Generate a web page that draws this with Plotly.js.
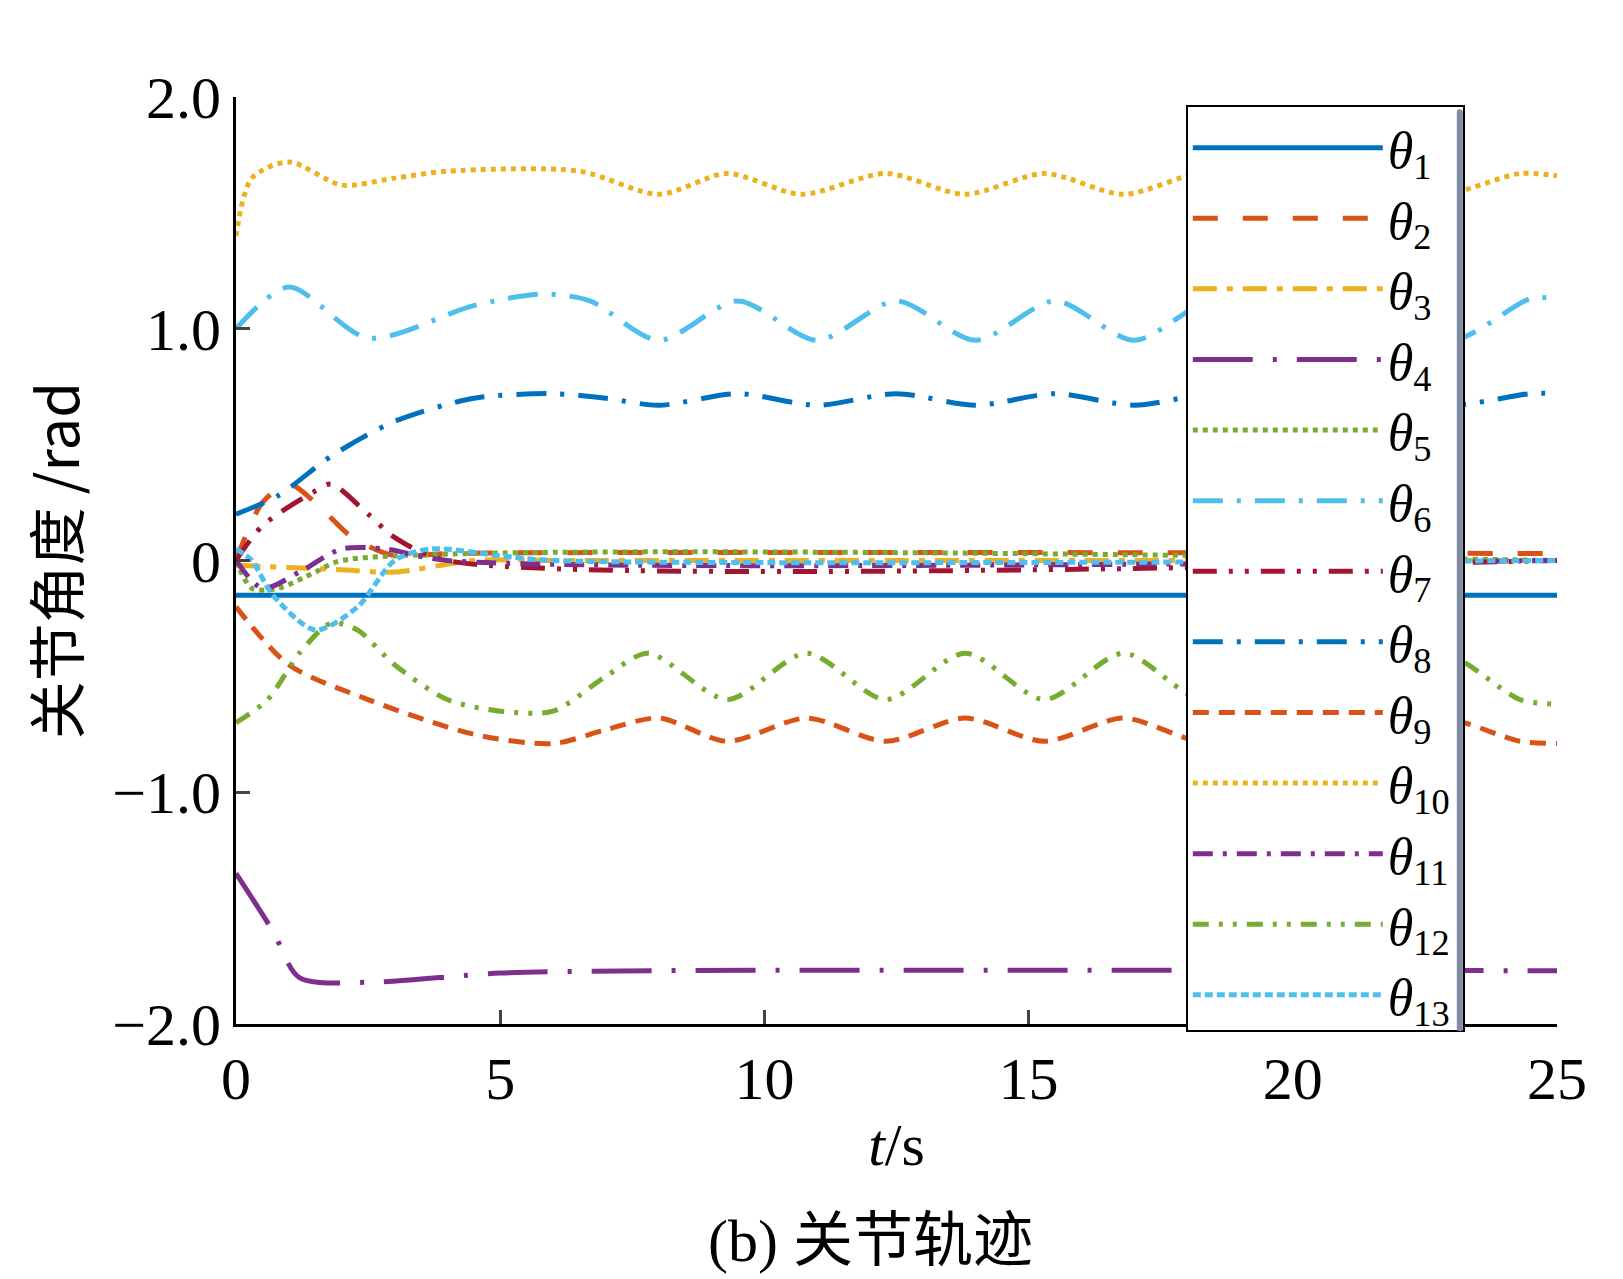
<!DOCTYPE html>
<html><head><meta charset="utf-8">
<script src="https://cdn.plot.ly/plotly-3.0.1.min.js"></script>
<style>body{margin:0;background:#fff}</style></head>
<body><div id="c" style="width:1623px;height:1279px"></div>
<script>
const names = ['θ1','θ2','θ3','θ4','θ5','θ6','θ7','θ8','θ9','θ10','θ11','θ12','θ13'];
const subs = ['1','2','3','4','5','6','7','8','9','10','11','12','13'];
const colors = ['#0072BD','#D95319','#EDB120','#7E2F8E','#77AC30','#4DBEEE','#A2142F','#0072BD','#D95319','#EDB120','#7E2F8E','#77AC30','#4DBEEE'];
const dashes = ['solid','longdash','24px,10px,6px,10px','60px,20px,4px,20px','dot','30px,14px,4px,14px','24px,12px,4px,12px,4px,12px','30px,14px,4px,14px','16px,10px','dot','20px,10px,4px,10px','16px,10px,4px,10px,4px,10px','8px,4px'];

const t1 = [0,25], y1 = [-0.15,-0.15];
const t2 = [0,0.5,1,1.5,2.2,3,4,25], y2 = [0,0.25,0.33,0.25,0.1,0.02,0.03,0.03];
const t3 = [0,1,2,3,4.5,6,25], y3 = [-0.02,-0.03,-0.04,-0.05,0,0,0];
const t4 = [0,0.7,1.2,2.5,5,8,25], y4 = [-1.35,-1.6,-1.8,-1.82,-1.78,-1.77,-1.77];
const t5 = [0,0.3,0.8,1.5,2,25], y5 = [0,-0.12,-0.12,-0.05,0,0];
const t6 = [0,1,2.5,4.5,5.8,6.7,8,9.5,11,12.5,14,15.5,17,18.5,20,21.5,23,24.5,25], y6 = [1.0,1.18,0.96,1.1,1.15,1.12,0.95,1.12,0.95,1.12,0.95,1.12,0.95,1.12,0.95,1.12,0.95,1.13,1.13];
const t7 = [0,0.5,1.5,1.8,2.5,3,4,25], y7 = [0,0.15,0.3,0.33,0.2,0.1,0,0];
const t8 = [0,0.8,1.8,3,4.5,6,7,8,9.5,11,12.5,14,15.5,17,18.5,20,21.5,23,24.5,25], y8 = [0.2,0.28,0.45,0.6,0.7,0.72,0.7,0.67,0.72,0.67,0.72,0.67,0.72,0.67,0.72,0.67,0.72,0.67,0.72,0.72];
const t9 = [0,1,2.5,4.5,6,7,8,9.3,10.8,12.3,13.8,15.3,16.8,18.3,19.8,21.3,22.8,24.3,25], y9 = [-0.2,-0.45,-0.6,-0.75,-0.79,-0.73,-0.68,-0.78,-0.68,-0.78,-0.68,-0.78,-0.68,-0.78,-0.68,-0.78,-0.68,-0.78,-0.79];
const t10 = [0,0.3,1,2,3,4,6.5,8,9.3,10.7,12.3,13.8,15.3,16.8,18.3,19.8,21.3,22.8,24.3,25], y10 = [1.4,1.65,1.72,1.62,1.65,1.68,1.68,1.58,1.67,1.58,1.67,1.58,1.67,1.58,1.67,1.58,1.67,1.58,1.67,1.66];
const t11 = [0,0.5,1.2,2,2.8,4,25], y11 = [0,-0.12,-0.05,0.05,0.05,0,0];
const t12 = [0,0.6,1.2,1.8,2.3,3,4,5,6,7,7.8,9.3,10.8,12.3,13.8,15.3,16.8,18.3,19.8,21.3,22.8,24.3,25], y12 = [-0.7,-0.6,-0.4,-0.27,-0.3,-0.45,-0.6,-0.65,-0.65,-0.5,-0.4,-0.6,-0.4,-0.6,-0.4,-0.6,-0.4,-0.6,-0.4,-0.6,-0.4,-0.6,-0.62];
const t13 = [0,0.3,0.7,1.5,2.3,3,3.7,5,6,25], y13 = [0.05,0,-0.15,-0.3,-0.2,0,0.05,0.02,0,0];

const T=[t1,t2,t3,t4,t5,t6,t7,t8,t9,t10,t11,t12,t13], Y=[y1,y2,y3,y4,y5,y6,y7,y8,y9,y10,y11,y12,y13];
const data = T.map((t,i)=>({x:t,y:Y[i],mode:'lines',type:'scatter',
  name:'<i>θ</i><sub>'+subs[i]+'</sub>',
  line:{color:colors[i],width:5,dash:dashes[i],shape:'spline',smoothing:0.8}}));
const f = 'Liberation Serif, Times New Roman, serif';
Plotly.newPlot('c', data, {
  width:1623,height:1279,margin:{l:236,r:66,t:97,b:255},
  paper_bgcolor:'#fff',plot_bgcolor:'#fff',showlegend:true,
  font:{family:f,size:58,color:'#000'},
  xaxis:{range:[0,25],tickvals:[0,5,10,15,20,25],ticks:'inside',ticklen:14,tickwidth:3,
    showline:true,linewidth:3,linecolor:'#000',showgrid:false,zeroline:false,
    tickfont:{size:60,family:f},title:{text:'<i>t</i>/s',font:{size:60,family:f},standoff:12}},
  yaxis:{range:[-2,2],tickvals:[2,1,0,-1,-2],ticktext:['2.0','1.0','0','−1.0','−2.0'],ticks:'inside',ticklen:14,tickwidth:3,
    showline:true,linewidth:3,linecolor:'#000',showgrid:false,zeroline:false,
    tickfont:{size:60,family:f},title:{text:'关节角度 /rad',font:{size:58,family:'Noto Sans CJK SC, '+f},standoff:14}},
  legend:{x:0.719,y:0.991,xanchor:'left',yanchor:'top',bordercolor:'#000',borderwidth:2,bgcolor:'#fff',
    font:{size:52,family:f},itemwidth:190,tracegroupgap:0},
  annotations:[{text:'(b) 关节轨迹',xref:'paper',yref:'paper',x:0.48,y:-0.234,yanchor:'middle',showarrow:false,
    font:{size:60,family:'Liberation Serif, Noto Sans CJK SC'}}]
},{displayModeBar:false});
</script></body></html>
